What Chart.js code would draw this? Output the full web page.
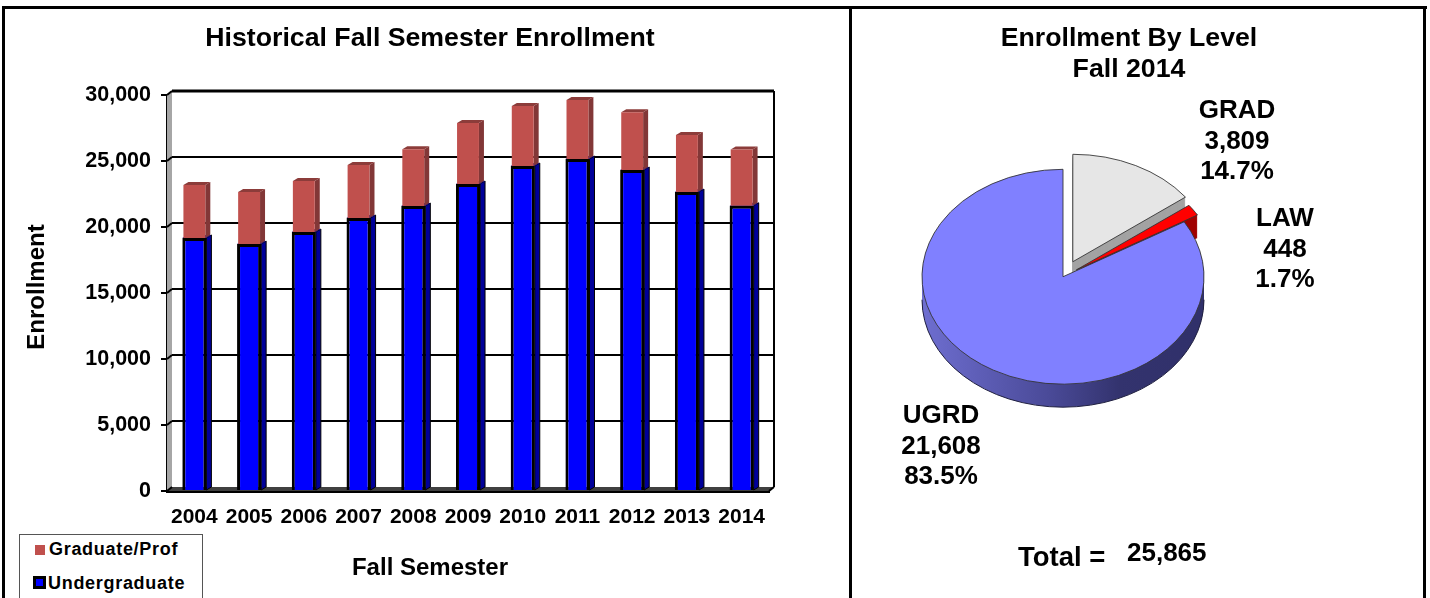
<!DOCTYPE html>
<html>
<head>
<meta charset="utf-8">
<title>Enrollment</title>
<script src="https://cdn.jsdelivr.net/npm/chart.js@4"></script>
<style>
  html, body { margin: 0; padding: 0; background: #fff; width: 1430px; height: 598px; overflow: hidden; }
  body { position: relative; font-family: "Liberation Sans", Arial, sans-serif; }
  canvas { position: absolute; top: 0; }
  #enrollmentChart { left: 0; }
  #levelChart { left: 851px; }
  .rule { position: absolute; background: #000; }
  #legendBox { position: absolute; left: 19px; top: 534px; width: 184px; height: 70px; border: 1px solid #555; background: #fff; box-sizing: border-box; font-weight: bold; font-size: 18px; letter-spacing: 0.7px; }
  .legendRow { position: absolute; white-space: nowrap; }
  .legendRow i { display: inline-block; box-sizing: border-box; }
</style>
</head>
<body>
<div class="rule" style="left:2px;top:6px;width:1425px;height:3px"></div>
<div class="rule" style="left:2px;top:6px;width:3px;height:592px"></div>
<div class="rule" style="left:849px;top:6px;width:3px;height:592px"></div>
<div class="rule" style="left:1423px;top:6px;width:3px;height:592px"></div>
<canvas id="enrollmentChart" width="860" height="598"></canvas>
<canvas id="levelChart" width="556" height="598"></canvas>
<div id="legendBox"></div>
<script>
var semesters = ["2004", "2005", "2006", "2007", "2008", "2009", "2010", "2011", "2012", "2013", "2014"];
var undergraduate = [19170, 18710, 19620, 20680, 21590, 23260, 24620, 25150, 24320, 22650, 21608];
var graduate = [4010, 3940, 3860, 4020, 4310, 4620, 4550, 4470, 4380, 4320, 4257];

var levelNames = ["GRAD", "LAW", "UGRD"];
var levelCounts = [3809, 448, 21608];
var levelShares = ["14.7%", "1.7%", "83.5%"];
var levelTotal = "25,865";

var blueBar = "#0000ff";
var redBar = "#c0504d";
var font = '"Liberation Sans", Arial, sans-serif';

// 3d look of the left chart: back wall is pushed up and to the right
var wallX = 5;
var wallY = 4;
var barSideX = 5;
var barSideY = 3;

function line(ctx, x1, y1, x2, y2) {
  ctx.beginPath();
  ctx.moveTo(x1, y1);
  ctx.lineTo(x2, y2);
  ctx.stroke();
}

// padding moves the title too, so give it the whole canvas back
var titleSpanPlugin = {
  id: "titleSpan",
  afterLayout: function (chart) {
    chart.titleBlock.left = 0;
    chart.titleBlock.right = chart.width;
  },
};

var barDepthPlugin = {
  id: "barDepth",
  beforeDatasetsDraw: function (chart) {
    var ctx = chart.ctx;
    var xs = chart.scales.x;
    var ys = chart.scales.y;
    var top = ys.top, bottom = ys.bottom, left = xs.left, right = xs.right;

    ctx.save();
    // left wall and floor
    ctx.fillStyle = "#a6a6a6";
    ctx.beginPath();
    ctx.moveTo(left, top);
    ctx.lineTo(left + wallX, top - wallY);
    ctx.lineTo(left + wallX, bottom - wallY);
    ctx.lineTo(left, bottom);
    ctx.closePath();
    ctx.fill();
    ctx.fillStyle = "#404040";
    ctx.beginPath();
    ctx.moveTo(left, bottom);
    ctx.lineTo(left + wallX, bottom - wallY);
    ctx.lineTo(right + wallX, bottom - wallY);
    ctx.lineTo(right, bottom);
    ctx.closePath();
    ctx.fill();

    // gridlines sit on the back wall
    ctx.strokeStyle = "#000";
    ys.ticks.forEach(function (t, i) {
      var y = ys.getPixelForValue(t.value);
      ctx.lineWidth = 2;
      if (i > 0 && i < ys.ticks.length - 1) {
        line(ctx, left + wallX, y - wallY, right + wallX, y - wallY);
      }
      if (i === ys.ticks.length - 1) {
        ctx.lineWidth = 3;
        line(ctx, left + wallX, y - wallY, right + wallX, y - wallY);
      }
      ctx.lineWidth = 2;
      line(ctx, left, y, left + wallX, y - wallY);
    });
    ctx.lineWidth = 2;
    line(ctx, right + wallX, top - wallY, right + wallX, bottom - wallY);
    line(ctx, right, bottom, right + wallX, bottom - wallY);

    // side and top faces of the bars
    var faces = [
      { side: "#000099", top: "#000099", stroke: "#000" },
      { side: "#823737", top: "#8c3c3a", stroke: null },
    ];
    chart.data.datasets.forEach(function (ds, di) {
      chart.getDatasetMeta(di).data.forEach(function (bar) {
        var r = bar.x + bar.width / 2;
        var l = bar.x - bar.width / 2;
        ctx.fillStyle = faces[di].side;
        ctx.beginPath();
        ctx.moveTo(r, bar.y);
        ctx.lineTo(r + barSideX, bar.y - barSideY);
        ctx.lineTo(r + barSideX, bar.base - barSideY);
        ctx.lineTo(r, bar.base);
        ctx.closePath();
        ctx.fill();
        if (faces[di].stroke) {
          ctx.strokeStyle = faces[di].stroke;
          ctx.lineWidth = 1;
          ctx.stroke();
        }
        ctx.fillStyle = faces[di].top;
        ctx.beginPath();
        ctx.moveTo(l, bar.y);
        ctx.lineTo(l + barSideX, bar.y - barSideY);
        ctx.lineTo(r + barSideX, bar.y - barSideY);
        ctx.lineTo(r, bar.y);
        ctx.closePath();
        ctx.fill();
      });
    });
    ctx.restore();
  },
  afterDraw: function (chart) {
    var ctx = chart.ctx;
    ctx.save();
    ctx.fillStyle = "#000";
    ctx.textAlign = "center";
    ctx.textBaseline = "middle";
    ctx.font = "bold 24px " + font;
    ctx.fillText("Fall Semester", 430, 568);
    ctx.translate(37, 287);
    ctx.rotate(-Math.PI / 2);
    ctx.fillText("Enrollment", 0, 0);
    ctx.restore();
  },
};

new Chart(document.getElementById("enrollmentChart"), {
  type: "bar",
  data: {
    labels: semesters,
    datasets: [
      { label: "Undergraduate", data: undergraduate, backgroundColor: blueBar, borderColor: "#000", borderWidth: 3, barPercentage: 0.44 },
      { label: "Graduate/Prof", data: graduate, backgroundColor: redBar, borderWidth: 0, barPercentage: 0.4 },
    ],
  },
  options: {
    responsive: false,
    animation: false,
    layout: { padding: { right: 91 } },
    datasets: { bar: { categoryPercentage: 1 } },
    plugins: {
      legend: { display: false },
      tooltip: { enabled: false },
      title: {
        display: true,
        text: "Historical Fall Semester Enrollment",
        color: "#000",
        font: { family: font, size: 26.7, weight: "bold", lineHeight: 1.2 },
        padding: { top: 23, bottom: 40 },
      },
    },
    scales: {
      x: {
        stacked: true,
        afterFit: function (scale) { scale.height = 107; },
        grid: { display: false, drawTicks: false },
        border: { display: true, color: "#000", width: 3 },
        ticks: { color: "#000", autoSkip: false, maxRotation: 0, padding: 14, font: { family: font, size: 21, weight: "bold" } },
      },
      y: {
        stacked: true,
        min: 0,
        max: 30000,
        afterFit: function (scale) { scale.width = 167; },
        grid: { drawOnChartArea: false, drawTicks: true, tickLength: 6, color: "#000", lineWidth: 2 },
        border: { display: true, color: "#000", width: 3 },
        ticks: {
          stepSize: 5000,
          color: "#000",
          padding: 10,
          font: { family: font, size: 21.5, weight: "bold" },
          callback: function (v) { return v.toLocaleString("en-US"); },
        },
      },
    },
  },
  plugins: [titleSpanPlugin, barDepthPlugin],
});

// legend lists graduate first, like the stack order
[
  { text: "Graduate/Prof", color: redBar, border: "none", left: 15, top: 4, swatch: 10, gap: 4 },
  { text: "Undergraduate", color: blueBar, border: "3px solid #000", left: 13, top: 38, swatch: 13, gap: 2 },
].forEach(function (item) {
  var row = document.createElement("div");
  row.className = "legendRow";
  row.style.left = item.left + "px";
  row.style.top = item.top + "px";
  row.innerHTML = '<i style="background:' + item.color + ";border:" + item.border + ";width:" + item.swatch + "px;height:" + item.swatch + "px;margin-right:" + item.gap + 'px"></i>' + item.text;
  document.getElementById("legendBox").appendChild(row);
});

// pie: squashed into an ellipse around the chart centre, with a wall below
var pieSquash = 0.762;
var pieDepth = 23;
var pieExplode = [22, 16, 0];
var pieColors = ["#e6e6e6", "#ff0000", "#8080ff"];
var pieWalls = ["#a3a3a3", "#a00000", null];

var pieTiltPlugin = {
  id: "pieTilt",
  afterDatasetsUpdate: function (chart) {
    chart.getDatasetMeta(0).data.forEach(function (arc, i) {
      var mid = (arc.startAngle + arc.endAngle) / 2;
      arc.x += Math.cos(mid) * pieExplode[i];
      arc.y += Math.sin(mid) * pieExplode[i];
    });
  },
  beforeDatasetsDraw: function (chart) {
    var ctx = chart.ctx;
    var area = chart.chartArea;
    var cx = (area.left + area.right) / 2;
    var cy = (area.top + area.bottom) / 2;
    var arcs = chart.getDatasetMeta(0).data;

    var r = arcs[2].outerRadius;
    var grad = ctx.createLinearGradient(cx - r, 0, cx + r, 0);
    grad.addColorStop(0, "#6e6ed0");
    grad.addColorStop(0.45, "#4a4a98");
    grad.addColorStop(0.7, "#33336e");
    grad.addColorStop(1, "#30306a");

    arcs.forEach(function (arc, i) {
      ctx.fillStyle = pieWalls[i] || grad;
      for (var d = pieDepth; d > 0; d--) {
        ctx.save();
        ctx.translate(cx, cy + d);
        ctx.scale(1, pieSquash);
        ctx.translate(-cx, -cy);
        ctx.beginPath();
        ctx.moveTo(arc.x, arc.y);
        ctx.arc(arc.x, arc.y, arc.outerRadius, arc.startAngle, arc.endAngle);
        ctx.closePath();
        ctx.fill();
        ctx.restore();
      }
    });
    // dark rim of the ugrd wall
    var u = arcs[2];
    ctx.save();
    ctx.translate(cx, cy + pieDepth);
    ctx.scale(1, pieSquash);
    ctx.translate(-cx, -cy);
    ctx.beginPath();
    ctx.arc(u.x, u.y, u.outerRadius, 0, Math.PI);
    ctx.restore();
    ctx.strokeStyle = "#202040";
    ctx.lineWidth = 1;
    ctx.stroke();

    ctx.save();
    ctx.translate(cx, cy);
    ctx.scale(1, pieSquash);
    ctx.translate(-cx, -cy);
  },
  afterDatasetsDraw: function (chart) {
    chart.ctx.restore();
  },
  afterDraw: function (chart) {
    var ctx = chart.ctx;
    // label spots in this canvas: grad, law, ugrd
    var spots = [[386, 111], [434, 219], [90, 416]];
    ctx.save();
    ctx.fillStyle = "#000";
    ctx.textAlign = "center";
    ctx.textBaseline = "middle";
    ctx.font = "bold 26px " + font;
    levelNames.forEach(function (name, i) {
      ctx.fillText(name, spots[i][0], spots[i][1]);
      ctx.fillText(levelCounts[i].toLocaleString("en-US"), spots[i][0], spots[i][1] + 30.5);
      ctx.fillText(levelShares[i], spots[i][0], spots[i][1] + 61);
    });
    ctx.textAlign = "left";
    ctx.fillText(levelTotal, 276, 554);
    ctx.font = "bold 27.5px " + font;
    ctx.fillText("Total =", 167, 558);
    ctx.restore();
  },
};

new Chart(document.getElementById("levelChart"), {
  type: "pie",
  data: {
    labels: levelNames,
    datasets: [
      { data: levelCounts, backgroundColor: pieColors, borderColor: "#333", borderWidth: 1, radius: 141 },
    ],
  },
  options: {
    responsive: false,
    animation: false,
    layout: { padding: { right: 132, bottom: 130 } },
    plugins: {
      legend: { display: false },
      tooltip: { enabled: false },
      title: {
        display: true,
        text: ["Enrollment By Level", "Fall 2014"],
        color: "#000",
        font: { family: font, size: 26.7, weight: "bold", lineHeight: 1.17 },
        padding: { top: 23, bottom: 0 },
      },
    },
  },
  plugins: [titleSpanPlugin, pieTiltPlugin],
});
</script>
</body>
</html>
